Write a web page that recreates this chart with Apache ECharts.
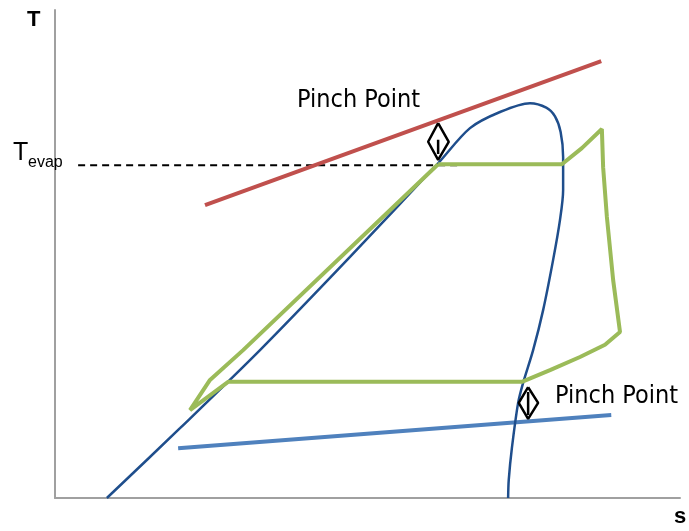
<!DOCTYPE html>
<html>
<head>
<meta charset="utf-8">
<script src="https://cdn.jsdelivr.net/npm/echarts@6/dist/echarts.min.js"></script>
<style>
  html, body { margin: 0; padding: 0; background: #fff; }
  #chart { width: 689px; height: 531px; }
</style>
</head>
<body>
<div id="chart"></div>
<script>
// T-s diagram sketch: saturation dome, cycle, heat source / sink lines
// s runs 0..100, T runs 0..100 (schematic units)
const domeS = [8.3, 20.0, 32.8, 47.2, 61.3, 66.4, 71.2, 76.0, 78.6, 80.0, 80.9, 81.3, 81.3, 80.8, 79.7, 78.1, 76.5, 74.9, 74.1, 73.1, 72.6, 72.5];
const domeT = [0, 14.3, 30.3, 49.4, 68.6, 75.8, 79.1, 80.9, 80.0, 78.2, 75.0, 69.9, 63.1, 57.0, 48.8, 38.5, 30.3, 23.6, 19.5, 10.2, 3.7, 0];

const cycleS = [61.3, 30.1, 24.8, 21.6, 27.7, 74.7, 79.2, 84.0, 88.0, 90.4, 89.3, 88.3, 87.7, 87.5, 84.3, 81.1, 61.3];
const cycleT = [68.4, 30.3, 24.2, 18.0, 23.8, 23.8, 26.2, 28.9, 31.4, 34.0, 44.7, 57.6, 67.8, 75.6, 71.7, 68.4, 68.4];

const sourceS = [24.0, 87.4];
const sourceT = [60.0, 89.5];
const sinkS = [19.7, 89.0];
const sinkT = [10.2, 17.0];

const tevapS = [3.7, 64.5];
const tevapT = [68.2, 68.2];

// pinch markers (diamond outline + shaft)
const pinch1S = [61.3, 59.7, 61.3, 63.0, 61.3];
const pinch1T = [76.8, 73.0, 69.3, 73.0, 76.8];
const shaft1S = [61.3, 61.3];
const shaft1T = [73.4, 70.5];
const pinch2S = [75.7, 74.2, 75.7, 77.3, 75.7];
const pinch2T = [22.7, 19.5, 16.2, 19.5, 22.7];
const shaft2S = [75.7, 75.7];
const shaft2T = [21.7, 17.0];

const zip = (a, b) => a.map((v, i) => [v, b[i]]);

const chart = echarts.init(document.getElementById('chart'));

const lineSeries = (s, t, color, width, extra) => Object.assign({
  type: 'line',
  data: zip(s, t),
  showSymbol: false,
  silent: true,
  lineStyle: { color: color, width: width }
}, extra || {});

const labelFont = '"DejaVu Sans Condensed", "Liberation Sans", sans-serif';
const txt = (x, y, text, font) => ({ type: 'text', left: x, top: y, z: 100, style: { text: text, font: font, fill: '#000' } });

const option = {
  animation: false,
  grid: { left: 55, right: 9, top: 10, bottom: 33 },
  xAxis: {
    type: 'value', min: 0, max: 100,
    axisLine: { lineStyle: { color: '#a0a0a0', width: 2 } },
    axisTick: { show: false }, axisLabel: { show: false }, splitLine: { show: false }
  },
  yAxis: {
    type: 'value', min: 0, max: 100,
    axisLine: { show: true, lineStyle: { color: '#a0a0a0', width: 2 } },
    axisTick: { show: false }, axisLabel: { show: false }, splitLine: { show: false }
  },
  series: [
    lineSeries(tevapS, tevapT, '#000', 2, { lineStyle: { color: '#000', width: 2, type: [7, 5] } }),
    lineSeries(sourceS, sourceT, '#c0504d', 4),
    lineSeries(sinkS, sinkT, '#4f81bd', 4),
    lineSeries(domeS, domeT, '#1f4e8c', 2.5, { smooth: 0.3 }),
    lineSeries(cycleS, cycleT, '#9bbb59', 4),
    lineSeries(pinch1S, pinch1T, '#000', 2.5),
    lineSeries(shaft1S, shaft1T, '#000', 2.5),
    lineSeries(pinch2S, pinch2T, '#000', 2.5),
    lineSeries(shaft2S, shaft2T, '#000', 2.5)
  ],
  graphic: [
    txt(27, 9, 'T', 'bold 22px "Liberation Sans"'),
    txt(674, 506, 's', 'bold 22px "Liberation Sans"'),
    txt(13, 141, 'T', '25px "Liberation Sans"'),
    txt(28, 155, 'evap', '16px "Liberation Sans"'),
    txt(297, 88, 'Pinch Point', '25px ' + labelFont),
    txt(555, 384, 'Pinch Point', '25px ' + labelFont)
  ]
};

chart.setOption(option);
</script>
</body>
</html>
